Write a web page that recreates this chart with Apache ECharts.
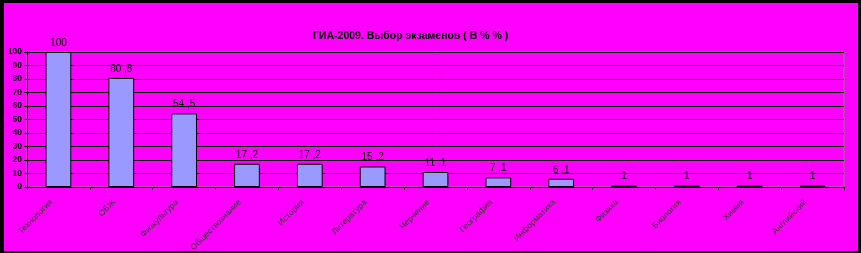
<!DOCTYPE html>
<html><head><meta charset="utf-8">
<script src="https://cdn.jsdelivr.net/npm/echarts@6/dist/echarts.min.js"></script>
<style>html,body{margin:0;padding:0;background:#000;}#c{width:861px;height:253px;}</style>
</head><body><div id="c"></div>
<script>
var categories = ['Технология','ОБЖ','Физкультура','Обществознание','История','Литература','Черчение','География','Информатика','Физика','Биология','Химия','Английский'];
var values = [100, 80.8, 54.5, 17.2, 17.2, 15.2, 11.1, 7.1, 6.1, 1, 1, 1, 1];
var yTicks = [0,10,20,30,40,50,60,70,80,90,100];
var title = 'ГИА-2009. Выбор экзаменов ( В % % )';

var chart = echarts.init(document.getElementById('c'), null, {renderer:'canvas'});
chart.setOption({
  backgroundColor: '#000',
  animation: false,
  graphic: [{type:'rect', shape:{x:4,y:3,width:854,height:248}, style:{fill:'#FF00FF'}, z:-10}],
  title: {text: title, left: 308, top: 26, textStyle:{fontFamily:'Liberation Sans', fontSize:10.5, fontWeight:'bold', color:'#000'}},
  grid: {left:27, right:17, top:52, bottom:66, containLabel:false, outerBoundsMode:'none', show:true, borderColor:'#808080', borderWidth:1, backgroundColor:'transparent'},
  xAxis: {type:'category', data: categories,
    axisLine:{lineStyle:{color:'#000', width:1}},
    axisTick:{show:true, length:3, lineStyle:{color:'#000'}},
    axisLabel:{rotate:45, fontSize:8.5, fontFamily:'Liberation Sans', color:'#333', margin:7, padding:[0,10,0,0], interval:0}},
  yAxis: {type:'value', min:0, max:100, interval:10,
    axisLine:{show:true, lineStyle:{color:'#000'}},
    axisTick:{show:true, length:3, lineStyle:{color:'#000'}},
    splitLine:{lineStyle:{color:'#000', width:1}},
    axisLabel:{fontSize:8.5, fontFamily:'Liberation Sans', fontWeight:'bold', color:'#000', margin:5,
      formatter:function(v){return yTicks.indexOf(v)>=0? String(v):'';}}},
  series: [{type:'bar', data: values, barCategoryGap:'59%',
    itemStyle:{color:'#9999FF', borderColor:'#000', borderWidth:1},
    label:{show:true, position:'top', distance:4, fontSize:10, fontFamily:'Liberation Sans', color:'#000',
      formatter:function(p){return String(p.value).replace('.', ' ,');}}}]
});
</script></body></html>
